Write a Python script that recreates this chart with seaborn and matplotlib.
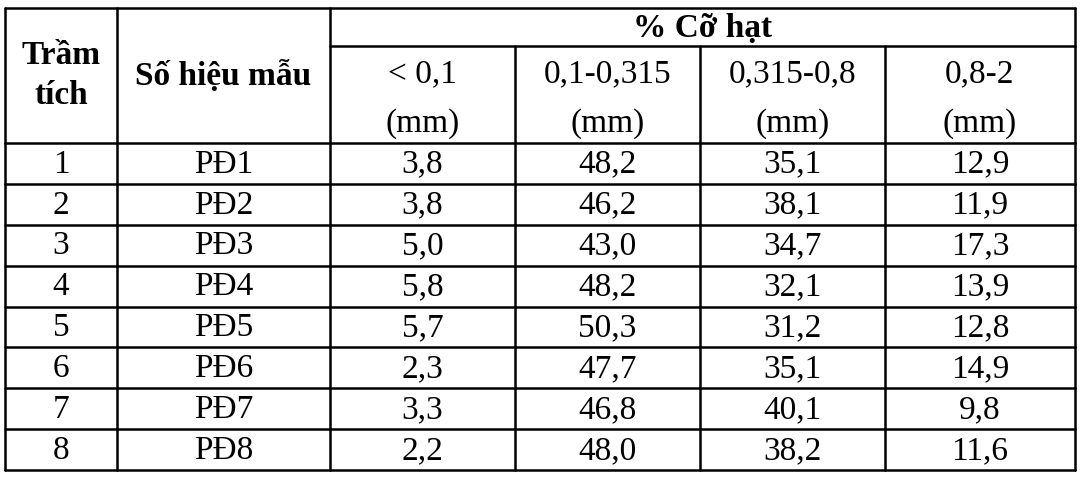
import matplotlib
matplotlib.use("Agg")
import matplotlib.pyplot as plt
import seaborn as sns

sns.set_style("white")
plt.rcParams['font.family'] = ['Liberation Serif', 'DejaVu Serif']

layers = ["1", "2", "3", "4", "5", "6", "7", "8"]
samples = ["PĐ1", "PĐ2", "PĐ3", "PĐ4", "PĐ5", "PĐ6", "PĐ7", "PĐ8"]
lt01 = ["3,8", "3,8", "5,0", "5,8", "5,7", "2,3", "3,3", "2,2"]
c01_0315 = ["48,2", "46,2", "43,0", "48,2", "50,3", "47,7", "46,8", "48,0"]
c0315_08 = ["35,1", "38,1", "34,7", "32,1", "31,2", "35,1", "40,1", "38,2"]
c08_2 = ["12,9", "11,9", "17,3", "13,9", "12,8", "14,9", "9,8", "11,6"]
size_heads = ["< 0,1", "0,1-0,315", "0,315-0,8", "0,8-2"]

fig = plt.figure(figsize=(10.8, 4.79), dpi=100)
ax = fig.add_axes([0, 0, 1, 1])
ax.set_xlim(0, 1080); ax.set_ylim(479, 0); ax.axis("off")

xs = [5, 117, 330, 515, 700, 885, 1075]
top, h1, hb, bot = 8, 46, 143, 470
rh = (bot - hb) / 8
lw = 1.8
fs = 24
for x in xs:
    ax.plot([x, x], [top if x in (5, 117, 330, 1075) else h1, bot], color="black", lw=lw)
ax.plot([5, 1075], [top, top], color="black", lw=lw)
ax.plot([330, 1075], [h1, h1], color="black", lw=lw)
for i in range(9):
    y = hb + i * rh
    ax.plot([5, 1075], [y, y], color="black", lw=lw)

ax.text((xs[0] + xs[1]) / 2, (top + hb) / 2, "Trầm\ntích", ha="center", va="center",
        fontsize=fs, fontweight="bold", linespacing=1.4, color="black")
ax.text((xs[1] + xs[2]) / 2, (top + hb) / 2, "Số hiệu mẫu", ha="center", va="center",
        fontsize=fs, fontweight="bold", color="black")
ax.text((xs[2] + xs[6]) / 2, (top + h1) / 2 + 1, "% Cỡ hạt", ha="center", va="center",
        fontsize=fs, fontweight="bold", color="black")
for j, hd in enumerate(size_heads):
    cx = (xs[2 + j] + xs[3 + j]) / 2
    ax.text(cx, 74, hd, ha="center", va="center", fontsize=fs, color="black")
    ax.text(cx, 124, "(mm)", ha="center", va="center", fontsize=fs, color="black")

cols = [layers, samples, lt01, c01_0315, c0315_08, c08_2]
for j, col in enumerate(cols):
    cx = (xs[j] + xs[j + 1]) / 2
    for i, v in enumerate(col):
        ax.text(cx, hb + (i + 0.5) * rh + 1, v, ha="center", va="center", fontsize=fs,
                color="black")

fig.savefig("out.png", dpi=100, facecolor="white")
